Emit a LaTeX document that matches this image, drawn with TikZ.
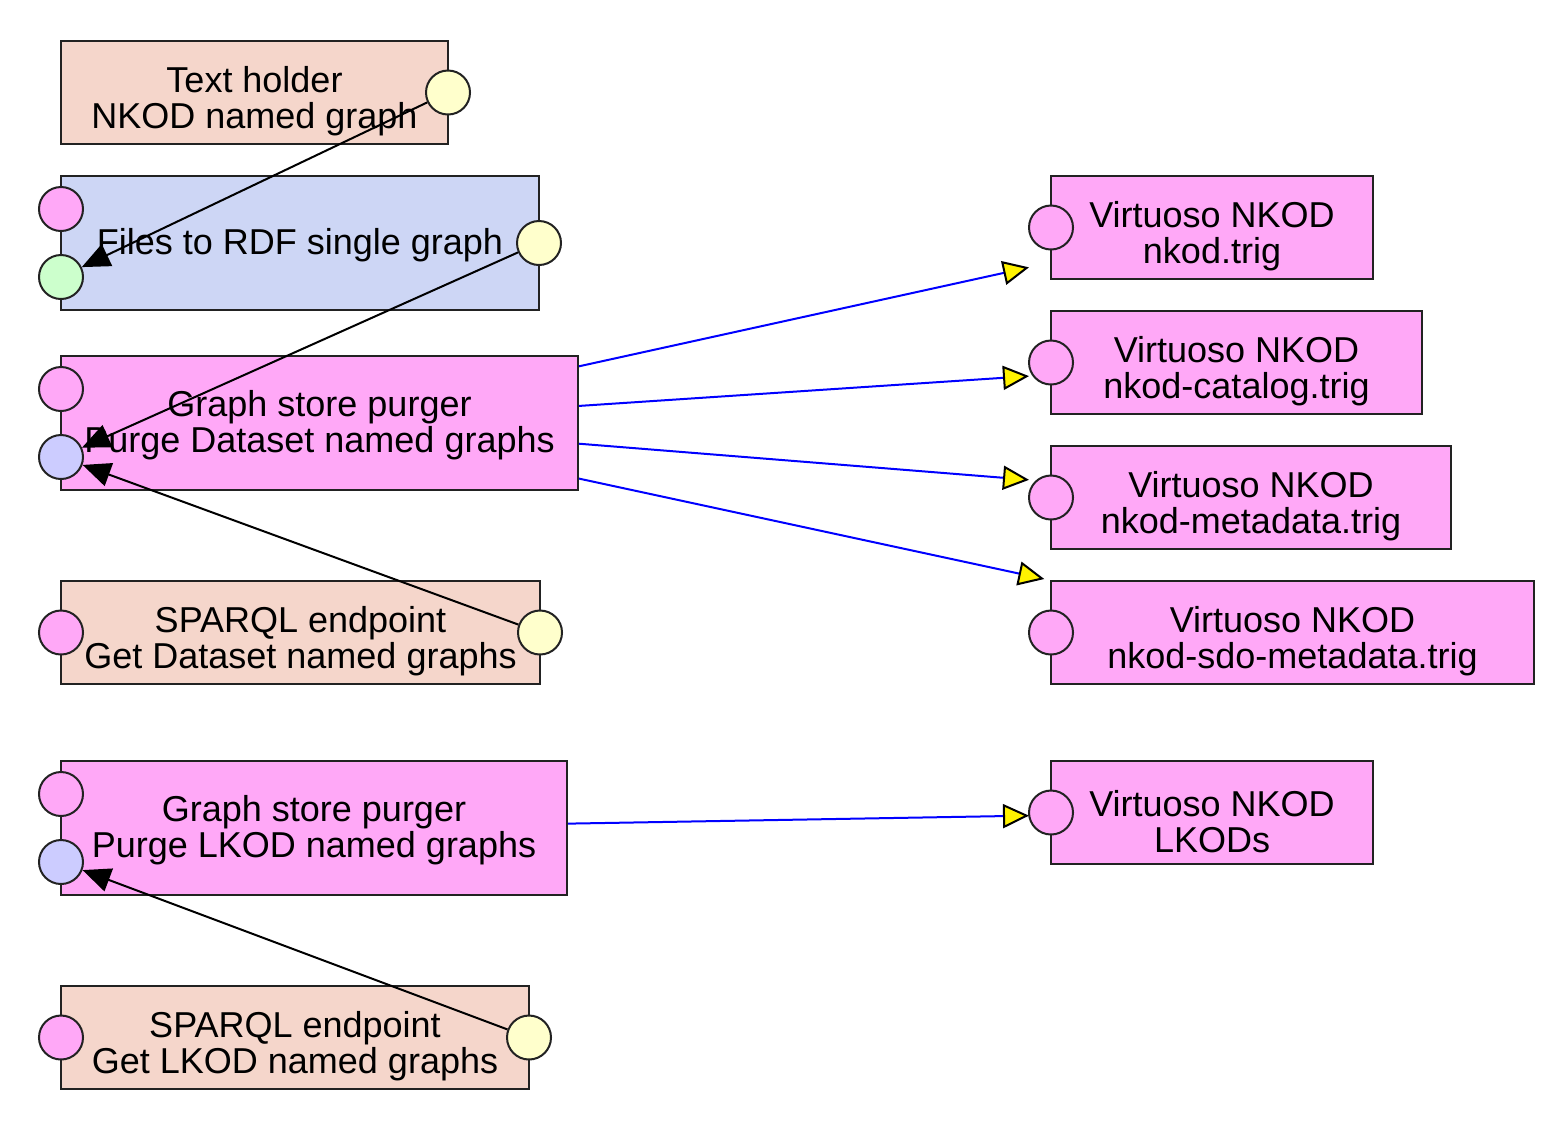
\documentclass[tikz,border=0pt]{standalone}
\usepackage{fontspec}
\setmainfont{Liberation Sans}
\usepackage{xcolor}
\usepackage{tikz}
\usetikzlibrary{arrows.meta}

\definecolor{holderfill}{RGB}{245,214,203}
\definecolor{rdffill}{RGB}{205,214,245}
\definecolor{purgefill}{RGB}{255,168,247}
\definecolor{portyellow}{RGB}{255,255,204}
\definecolor{portgreen}{RGB}{204,255,204}
\definecolor{portblue}{RGB}{204,204,255}
\definecolor{edgeline}{RGB}{34,34,34}

\begin{document}
\begin{tikzpicture}[x=0.5pt,y=0.5pt,yscale=-1,xscale=1,
	box/.style={draw=edgeline, line width=1pt, inner sep=0pt, minimum height=51.5pt},
	tallbox/.style={box, minimum height=67pt},
	store/.style={box, fill=purgefill, outer xsep=11pt, outer ysep=1pt},
	boxtext/.style={align=center, inner sep=0pt, font=\fontsize{18}{18}\selectfont},
	port/.style={circle, draw=edgeline, line width=1pt, inner sep=0pt, minimum size=22pt},
	link/.style={line width=1pt, -{Triangle[length=14pt,width=12pt]}},
	feed/.style={blue, line width=1pt, -{Triangle[color=black,fill=yellow,length=13pt,width=12pt,line width=1pt]}}]
	\useasboundingbox (0,0) rectangle (1561,1142);
	
	%Boxes left
	\node [box, fill=holderfill, minimum width=193.5pt] (holder) at (254.5,92.5) {};
	\node [tallbox, fill=rdffill, minimum width=239pt] (files) at (300,243) {};
	\node [tallbox, fill=purgefill, minimum width=258.5pt] (purgeds) at (319.5,423) {};
	\node [box, fill=holderfill, minimum width=239.5pt] (sparqlds) at (300.5,632.5) {};
	\node [tallbox, fill=purgefill, minimum width=253pt] (purgelk) at (314,828) {};
	\node [box, fill=holderfill, minimum width=234pt] (sparqllk) at (295,1037.5) {};
	
	%Boxes right
	\node [store, minimum width=161pt] (vnkod) at (1212,227.5) {};
	\node [store, minimum width=185.5pt] (vcat) at (1236.5,362.5) {};
	\node [store, minimum width=200pt] (vmeta) at (1251,497.5) {};
	\node [store, minimum width=241.5pt] (vsdo) at (1292.5,632.5) {};
	\node [store, minimum width=161pt] (vlkod) at (1212,812.5) {};
	
	% Text Node
	\node [boxtext] (holdertext) at ([yshift=4.5pt]holder.center) {Text holder\\NKOD named graph};
	\node [boxtext] (filestext) at ([yshift=1.2pt]files.center) {Files to RDF single graph};
	\node [boxtext] (purgedstext) at ([yshift=1.2pt]purgeds.center) {Graph store purger\\Purge Dataset named graphs};
	\node [boxtext] (sparqldstext) at ([yshift=4.5pt]sparqlds.center) {SPARQL endpoint\\Get Dataset named graphs};
	\node [boxtext] (purgelktext) at ([yshift=1.2pt]purgelk.center) {Graph store purger\\Purge LKOD named graphs};
	\node [boxtext] (sparqllktext) at ([yshift=4.5pt]sparqllk.center) {SPARQL endpoint\\Get LKOD named graphs};
	\node [boxtext] (vnkodtext) at ([yshift=4.5pt]vnkod.center) {Virtuoso NKOD\\nkod.trig};
	\node [boxtext] (vcattext) at ([yshift=4.5pt]vcat.center) {Virtuoso NKOD\\nkod-catalog.trig};
	\node [boxtext] (vmetatext) at ([yshift=4.5pt]vmeta.center) {Virtuoso NKOD\\nkod-metadata.trig};
	\node [boxtext] (vsdotext) at ([yshift=4.5pt]vsdo.center) {Virtuoso NKOD\\nkod-sdo-metadata.trig};
	\node [boxtext] (vlkodtext) at ([yshift=4.5pt]vlkod.center) {Virtuoso NKOD\\LKODs};
	
	%Ports
	\node [port, fill=portyellow] (holderout) at (448,92.5) {};
	\node [port, fill=purgefill] (filesin) at (61,209) {};
	\node [port, fill=portgreen] (filesdata) at (61,277) {};
	\node [port, fill=portyellow] (filesout) at (539,243) {};
	\node [port, fill=purgefill] (purgedsin) at (61,389) {};
	\node [port, fill=portblue] (purgedsgraphs) at (61,457) {};
	\node [port, fill=purgefill] (sparqldsin) at (61,632.5) {};
	\node [port, fill=portyellow] (sparqldsout) at (540,632.5) {};
	\node [port, fill=purgefill] (purgelkin) at (61,794) {};
	\node [port, fill=portblue] (purgelkgraphs) at (61,862) {};
	\node [port, fill=purgefill] (sparqllkin) at (61,1037.5) {};
	\node [port, fill=portyellow] (sparqllkout) at (529,1037.5) {};
	\node [port, fill=purgefill] (vnkodin) at (1051,227.5) {};
	\node [port, fill=purgefill] (vcatin) at (1051,362.5) {};
	\node [port, fill=purgefill] (vmetain) at (1051,497.5) {};
	\node [port, fill=purgefill] (vsdoin) at (1051,632.5) {};
	\node [port, fill=purgefill] (vlkodin) at (1051,812.5) {};
	
	%Straight Lines
	\draw [link] (holderout) -- (filesdata);
	\draw [link] (filesout) -- (purgedsgraphs);
	\draw [link] (sparqldsout) -- (purgedsgraphs);
	\draw [link] (sparqllkout) -- (purgelkgraphs);
	
	%Straight Lines blue
	\draw [feed] (purgeds) -- (vnkod);
	\draw [feed] (purgeds) -- (vcat);
	\draw [feed] (purgeds) -- (vmeta);
	\draw [feed] (purgeds) -- (vsdo);
	\draw [feed] (purgelk) -- (vlkod);
	
\end{tikzpicture}
\end{document}
